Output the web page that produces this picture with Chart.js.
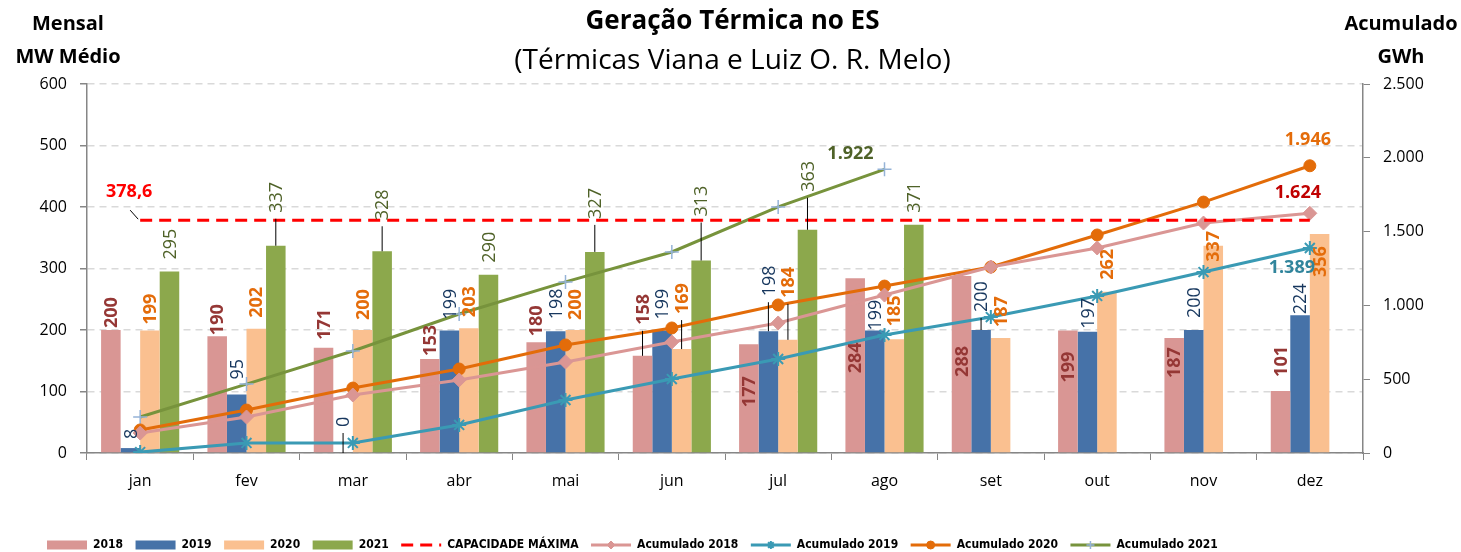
<!DOCTYPE html>
<html lang="pt-BR">
<head>
<meta charset="utf-8">
<title>Geração Térmica no ES</title>
<script src="https://cdn.jsdelivr.net/npm/chart.js@4.4.1/dist/chart.umd.min.js"></script>
<style>
  body { margin: 0; background: #fff; font-family: "Open Sans", sans-serif; }
  .wrap { position: relative; width: 1461px; height: 552px; overflow: hidden; }
  canvas { position: absolute; left: 0; top: 0; }
  .t { position: absolute; white-space: nowrap; color: #000; text-align: center; }
  .title { left: 2px; width: 1461px; top: 1px; font-size: 26px; font-weight: 700; line-height: 36px; }
  .sub { left: 2px; width: 1461px; top: 39px; font-size: 28px; font-weight: 400; line-height: 38px; }
  .axl { left: 0; width: 136px; top: 6px; font-size: 20px; font-weight: 700; line-height: 33px; }
  .axr { left: 1341px; width: 120px; top: 6px; font-size: 20px; font-weight: 700; line-height: 33px; }
</style>
</head>
<body>
<div class="wrap">
  <canvas id="chart" width="1461" height="552"></canvas>
  <div class="t title">Geração Térmica no ES</div>
  <div class="t sub">(Térmicas Viana e Luiz O. R. Melo)</div>
  <div class="t axl">Mensal<br>MW Médio</div>
  <div class="t axr">Acumulado<br>GWh</div>
</div>
<script>
const months = ["jan", "fev", "mar", "abr", "mai", "jun", "jul", "ago", "set", "out", "nov", "dez"];

// geração mensal, MW médio
const mw2018 = [200, 190, 171, 153, 180, 158, 177, 284, 288, 199, 187, 101];
const mw2019 = [8, 95, 0, 199, 198, 199, 198, 199, 200, 197, 200, 224];
const mw2020 = [199, 202, 200, 203, 200, 169, 184, 185, 187, 262, 337, 356];
const mw2021 = [295, 337, 328, 290, 327, 313, 363, 371];

const capMax = [378.6, 378.6, 378.6, 378.6, 378.6, 378.6, 378.6, 378.6, 378.6, 378.6, 378.6, 378.6];

// acumulado, GWh
const acum2018 = [135, 244, 393, 495, 617, 752, 881, 1070, 1260, 1389, 1558, 1624];
const acum2019 = [6, 68, 68, 190, 359, 501, 637, 799, 921, 1064, 1226, 1389];
const acum2020 = [156, 291, 440, 569, 732, 847, 1003, 1131, 1260, 1477, 1700, 1946];
const acum2021 = [244, 467, 691, 942, 1159, 1362, 1667, 1922];

const leftTicks = [0, 100, 200, 300, 400, 500, 600];
const rightTicks = [0, 500, 1000, 1500, 2000, 2500];

// distância (px) entre o topo da barra e o rótulo; negativo = dentro da barra
const gap2018 = [2, 1, 8, 3, 6, 31, -63, -95, -101, -52, -40, 14];
const gap2019 = [9, 15, 26, 11, 12, 11, 35, 0, 18, 3, 12, 1];
const gap2020 = [6, 11, 10, 11, 10, 35, 42, 13, 11, 12, -16, -43];
const gap2021 = [12, 33, 31, 12, 33, 44, 38, 12];

const FONT = '"Open Sans", sans-serif';
const LEGEND_FONT = '"Liberation Sans Narrow", "Arial Narrow", "DejaVu Sans Condensed", sans-serif';

function fmt(v) {
  const parts = String(v).split(".");
  return parts[0].replace(/\B(?=(\d{3})+(?!\d))/g, ".") + (parts[1] ? "," + parts[1] : "");
}

const barStyles = [
  { color: "#953735", weight: "bold", gaps: gap2018 },
  { color: "#17375E", weight: "normal", gaps: gap2019 },
  { color: "#E46C0A", weight: "bold", gaps: gap2020 },
  { color: "#4F6228", weight: "normal", gaps: gap2021 }
];

const lineLabels = [
  { ds: 4, i: 0, color: "#FF0000", dx: -11, dy: -28, leader: [-10, -10, -2, -1] },
  { ds: 5, i: 11, color: "#C00000", dx: -12, dy: -20 },
  { ds: 6, i: 11, color: "#31859C", dx: -18, dy: 20 },
  { ds: 7, i: 11, color: "#E46C0A", dx: -2, dy: -26 },
  { ds: 8, i: 7, color: "#4F6228", dx: -34, dy: -15 }
];

const valueLabels = {
  id: "valueLabels",
  afterDatasetsDraw(chart) {
    const ctx = chart.ctx;
    barStyles.forEach((s, di) => {
      const data = chart.data.datasets[di].data;
      chart.getDatasetMeta(di).data.forEach((bar, j) => {
        if (data[j] == null) return;
        const gap = s.gaps[j];
        ctx.save();
        if (gap > 16) {
          ctx.strokeStyle = "#000";
          ctx.lineWidth = 1;
          ctx.beginPath();
          ctx.moveTo(bar.x, bar.y);
          ctx.lineTo(bar.x, bar.y - gap + 6);
          ctx.stroke();
        }
        ctx.translate(bar.x, bar.y - gap);
        ctx.rotate(-Math.PI / 2);
        ctx.font = s.weight + " 18px " + FONT;
        ctx.fillStyle = s.color;
        ctx.textAlign = "left";
        ctx.textBaseline = "middle";
        ctx.fillText(String(data[j]), 0, 1);
        ctx.restore();
      });
    });

    lineLabels.forEach((l) => {
      const pt = chart.getDatasetMeta(l.ds).data[l.i];
      const v = chart.data.datasets[l.ds].data[l.i];
      ctx.save();
      if (l.leader) {
        ctx.strokeStyle = "#000";
        ctx.lineWidth = 1;
        ctx.beginPath();
        ctx.moveTo(pt.x + l.leader[0], pt.y + l.leader[1]);
        ctx.lineTo(pt.x + l.leader[2], pt.y + l.leader[3]);
        ctx.stroke();
      }
      ctx.font = "bold 18px " + FONT;
      ctx.fillStyle = l.color;
      ctx.textAlign = "center";
      ctx.textBaseline = "middle";
      ctx.fillText(fmt(v), pt.x + l.dx, pt.y + l.dy);
      ctx.restore();
    });
  }
};

// marcadores sobre as linhas da legenda
const legendMarkers = {
  id: "legendMarkers",
  afterDraw(chart) {
    const legend = chart.legend;
    if (!legend || !legend.legendHitBoxes) return;
    const ctx = chart.ctx;
    legend.legendItems.forEach((item, k) => {
      const ds = chart.data.datasets[item.datasetIndex];
      if (ds.type !== "line" || !ds.pointStyle) return;
      const box = legend.legendHitBoxes[k];
      const x = box.left + 20;
      const y = box.top + 6;
      ctx.save();
      ctx.fillStyle = ds.pointBackgroundColor;
      ctx.strokeStyle = ds.pointBorderColor;
      ctx.lineWidth = ds.pointBorderWidth;
      Chart.helpers.drawPoint(ctx, { pointStyle: ds.pointStyle, radius: 4, borderWidth: ds.pointBorderWidth }, x, y);
      ctx.restore();
    });
  }
};

const tickFont = { family: FONT, size: 16 };

new Chart(document.getElementById("chart"), {
  data: {
    labels: months,
    datasets: [
      { type: "bar", label: "2018", data: mw2018, backgroundColor: "#D99694", yAxisID: "y", order: 1 },
      { type: "bar", label: "2019", data: mw2019, backgroundColor: "#4672A8", yAxisID: "y", order: 1 },
      { type: "bar", label: "2020", data: mw2020, backgroundColor: "#FAC090", yAxisID: "y", order: 1 },
      { type: "bar", label: "2021", data: mw2021, backgroundColor: "#8CA84C", yAxisID: "y", order: 1 },
      {
        type: "line", label: "CAPACIDADE MÁXIMA", data: capMax, yAxisID: "y", order: 0,
        borderColor: "#FF0000", backgroundColor: "#FF0000", borderWidth: 3, borderDash: [12, 7],
        pointRadius: 0
      },
      {
        type: "line", label: "Acumulado 2018", data: acum2018, yAxisID: "y1", order: 0,
        borderColor: "#DA9694", backgroundColor: "#DA9694", borderWidth: 3,
        pointStyle: "rectRot", pointRadius: 7, pointBackgroundColor: "#DA9694",
        pointBorderColor: "#DA9694", pointBorderWidth: 1
      },
      {
        type: "line", label: "Acumulado 2019", data: acum2019, yAxisID: "y1", order: 0,
        borderColor: "#3A9AB4", backgroundColor: "#3A9AB4", borderWidth: 3,
        pointStyle: "star", pointRadius: 7, pointBackgroundColor: "#3A9AB4",
        pointBorderColor: "#3A9AB4", pointBorderWidth: 2
      },
      {
        type: "line", label: "Acumulado 2020", data: acum2020, yAxisID: "y1", order: 0,
        borderColor: "#E36C09", backgroundColor: "#E36C09", borderWidth: 3,
        pointStyle: "circle", pointRadius: 6, pointBackgroundColor: "#E36C09",
        pointBorderColor: "#E36C09", pointBorderWidth: 1
      },
      {
        type: "line", label: "Acumulado 2021", data: acum2021, yAxisID: "y1", order: 0,
        borderColor: "#77933C", backgroundColor: "#77933C", borderWidth: 3,
        pointStyle: "cross", pointRadius: 7, pointBackgroundColor: "#95B3D7",
        pointBorderColor: "#95B3D7", pointBorderWidth: 1.5
      }
    ]
  },
  options: {
    responsive: false,
    animation: false,
    events: [],
    datasets: { bar: { categoryPercentage: 0.735, barPercentage: 1 } },
    layout: { padding: { left: 34.5, right: 0, top: 84, bottom: -9 } },
    plugins: {
      title: { display: false },
      tooltip: { enabled: false },
      legend: {
        position: "bottom",
        align: "start",
        labels: {
          usePointStyle: true,
          pointStyleWidth: 40,
          boxHeight: 9,
          padding: 12.5,
          color: "#000",
          font: { family: LEGEND_FONT, size: 12, weight: "bold" },
          sort: (a, b) => a.datasetIndex - b.datasetIndex,
          generateLabels(chart) {
            const items = Chart.defaults.plugins.legend.labels.generateLabels(chart);
            items.forEach((it) => {
              const ds = chart.data.datasets[it.datasetIndex];
              if (ds.type === "line") {
                it.pointStyle = "line";
                it.lineWidth = 3;
                it.strokeStyle = ds.borderColor;
                it.lineDash = ds.borderDash || [];
              } else {
                it.pointStyle = "rect";
                it.lineWidth = 0;
                it.strokeStyle = ds.backgroundColor;
              }
            });
            return items;
          }
        }
      }
    },
    scales: {
      x: {
        offset: true,
        grid: { offset: true, drawOnChartArea: false, tickLength: 7, tickColor: "#868686" },
        border: { color: "#868686", width: 1.5 },
        ticks: { font: tickFont, color: "#000", padding: 12 },
        afterFit(s) { s.height = 73.5; }
      },
      y: {
        position: "left",
        min: 0,
        max: 600,
        afterBuildTicks(s) { s.ticks = leftTicks.map((v) => ({ value: v })); },
        ticks: { font: tickFont, color: "#000", padding: 13 },
        grid: { color: "#D9D9D9", lineWidth: 1.5, tickColor: "#868686", tickLength: 7 },
        border: { color: "#868686", width: 1.5, dash: [7, 5] },
        afterFit(s) { s.width = 52.5; }
      },
      y1: {
        position: "right",
        min: 0,
        max: 2500,
        afterBuildTicks(s) { s.ticks = rightTicks.map((v) => ({ value: v })); },
        ticks: { font: tickFont, color: "#000", padding: 13, callback: (v) => fmt(v) },
        grid: { drawOnChartArea: false, tickColor: "#868686", tickLength: 7 },
        border: { color: "#868686", width: 1.5 },
        afterFit(s) { s.width = 98; }
      }
    }
  },
  plugins: [valueLabels, legendMarkers]
});
</script>
</body>
</html>
